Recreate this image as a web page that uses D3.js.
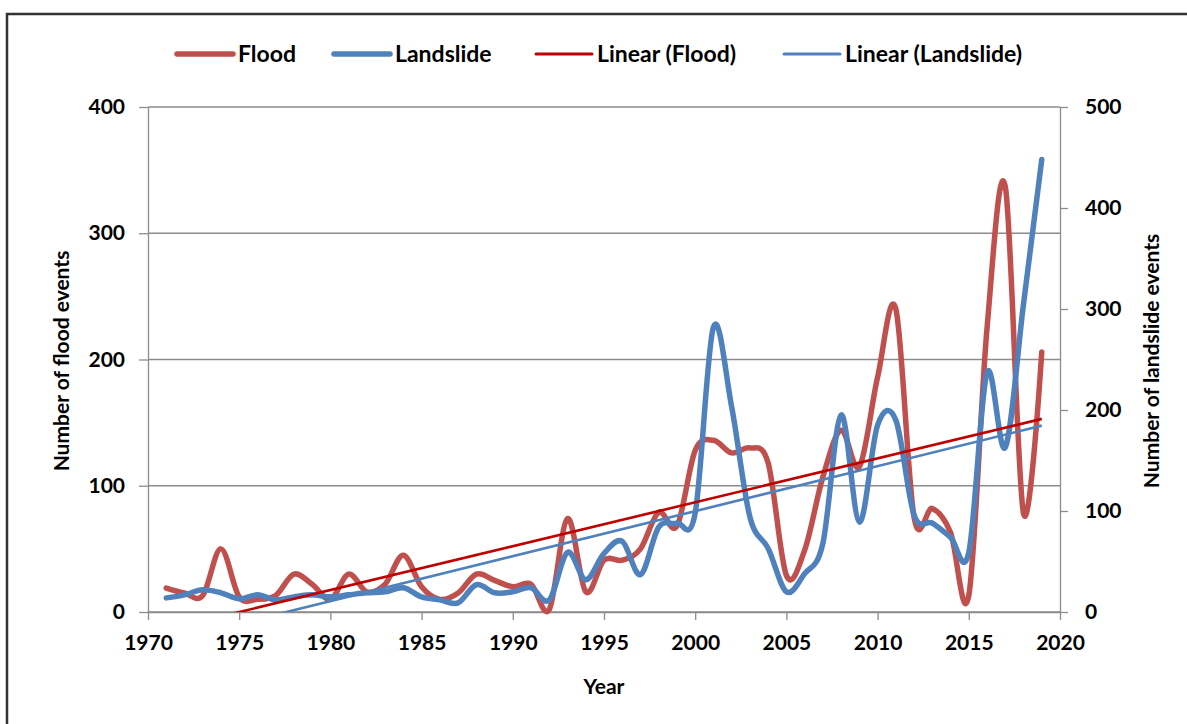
<!DOCTYPE html>
<html>
<head>
<meta charset="utf-8">
<title>Flood and landslide events</title>
<script src="https://cdn.jsdelivr.net/npm/d3@7"></script>
<style>
  body { margin: 0; background: #fff; }
  svg text { font-family: Lato, "Open Sans", sans-serif; font-weight: bold; fill: #000; }
</style>
</head>
<body>
<div id="root"></div>
<script>
// years on the x axis
const years = d3.range(1971, 2020);

// number of flood events per year (left axis)
const flood = [19, 15, 13, 50, 12, 10, 13, 30, 22, 10,
               30, 16, 22, 45, 20, 10, 15, 30, 25, 20,
               22, 2, 74, 16, 41, 41, 50, 79, 68, 128,
               136, 126, 130, 118, 29, 49, 107, 144, 115, 186,
               240, 75, 82, 63, 13, 225, 337, 78, 206];

// number of landslide events per year (right axis)
const landslide = [14, 17, 22, 19, 13, 17, 12, 15, 17, 15,
                   17, 19, 20, 24, 15, 12, 9, 27, 19, 20,
                   24, 12, 59, 32, 58, 70, 37, 84, 88, 98,
                   282, 203, 94, 63, 20, 38, 68, 195, 89, 185,
                   190, 96, 88, 74, 59, 237, 163, 305, 448];

const xTicks = d3.range(1970, 2021, 5);
const leftTicks = [0, 100, 200, 300, 400];
const rightTicks = [0, 100, 200, 300, 400, 500];
const legendLabels = ["Flood", "Landslide", "Linear (Flood)", "Linear (Landslide)"];

const width = 1187, height = 724;
const plotLeft = 148, plotRight = 1060, plotTop = 107, plotBottom = 612;
const gridColor = "#8c8c8c";

const svg = d3.select("#root").append("svg")
  .attr("width", width)
  .attr("height", height);

// chart frame
svg.append("rect")
  .attr("x", 7).attr("y", 14)
  .attr("width", 1300).attr("height", 900)
  .attr("fill", "#fff")
  .attr("stroke", "#333")
  .attr("stroke-width", 2.5);

const x = d3.scaleLinear().domain([1970, 2020]).range([plotLeft, plotRight]);
const yL = d3.scaleLinear().domain([0, 400]).range([plotBottom, plotTop]);
const yR = d3.scaleLinear().domain([0, 500]).range([plotBottom, plotTop]);

// horizontal gridlines
svg.append("g").selectAll("line")
  .data(leftTicks)
  .enter().append("line")
  .attr("x1", plotLeft).attr("x2", plotRight)
  .attr("y1", d => yL(d)).attr("y2", d => yL(d))
  .attr("stroke", gridColor).attr("stroke-width", 1.3);

// axes
function styleAxis(g) {
  g.select(".domain").attr("stroke", gridColor).attr("stroke-width", 1.3);
  g.selectAll(".tick line").attr("stroke", gridColor).attr("stroke-width", 1.3);
  g.selectAll(".tick text").attr("font-size", "21px").attr("fill", "#000");
}

svg.append("g")
  .attr("transform", "translate(0," + plotBottom + ")")
  .call(d3.axisBottom(x).tickValues(xTicks).tickFormat(d3.format("d")).tickSize(8).tickSizeOuter(0).tickPadding(15))
  .call(styleAxis);

svg.append("g")
  .attr("transform", "translate(" + plotLeft + ",0)")
  .call(d3.axisLeft(yL).tickValues(leftTicks).tickSize(9).tickSizeOuter(0).tickPadding(14))
  .call(styleAxis);

svg.append("g")
  .attr("transform", "translate(" + plotRight + ",0)")
  .call(d3.axisRight(yR).tickValues(rightTicks).tickSize(8).tickSizeOuter(0).tickPadding(17))
  .call(styleAxis);

// clip for the trend lines
svg.append("clipPath").attr("id", "plotClip")
  .append("rect")
  .attr("x", plotLeft).attr("y", plotTop)
  .attr("width", plotRight - plotLeft).attr("height", plotBottom - plotTop);

// least squares fit, like the excel trendline
function linearFit(xs, ys) {
  const mx = d3.mean(xs), my = d3.mean(ys);
  let num = 0, den = 0;
  xs.forEach((v, i) => { num += (v - mx) * (ys[i] - my); den += (v - mx) * (v - mx); });
  const b = num / den;
  return v => my + b * (v - mx);
}

const floodFit = linearFit(years, flood);
const slideFit = linearFit(years, landslide);
const x0 = years[0], x1 = years[years.length - 1];

const smooth = d3.line().curve(d3.curveCardinal.tension(0));

svg.append("path")
  .attr("d", smooth(years.map((yr, i) => [x(yr), yL(flood[i])])))
  .attr("fill", "none").attr("stroke", "#C0504D").attr("stroke-width", 5.5)
  .attr("stroke-linejoin", "round").attr("stroke-linecap", "round");

svg.append("path")
  .attr("d", smooth(years.map((yr, i) => [x(yr), yR(landslide[i])])))
  .attr("fill", "none").attr("stroke", "#4F81BD").attr("stroke-width", 5.5)
  .attr("stroke-linejoin", "round").attr("stroke-linecap", "round");

const trends = svg.append("g").attr("clip-path", "url(#plotClip)");

trends.append("line")
  .attr("x1", x(x0)).attr("y1", yL(floodFit(x0)))
  .attr("x2", x(x1)).attr("y2", yL(floodFit(x1)))
  .attr("stroke", "#C00000").attr("stroke-width", 2.6);

trends.append("line")
  .attr("x1", x(x0)).attr("y1", yR(slideFit(x0)))
  .attr("x2", x(x1)).attr("y2", yR(slideFit(x1)))
  .attr("stroke", "#4F81BD").attr("stroke-width", 2.6);

// legend
const legendX = [177, 334, 536, 784];
const legendColor = ["#C0504D", "#4F81BD", "#C00000", "#4F81BD"];
const legendWidth = [5.5, 5.5, 3, 3];

const legend = svg.append("g").selectAll("g")
  .data(legendLabels)
  .enter().append("g")
  .attr("transform", (d, i) => "translate(" + legendX[i] + ",54)");

legend.append("line")
  .attr("x1", 0).attr("x2", 56)
  .attr("stroke", (d, i) => legendColor[i])
  .attr("stroke-width", (d, i) => legendWidth[i])
  .attr("stroke-linecap", "round");

legend.append("text")
  .attr("x", 61)
  .attr("dy", "0.35em")
  .attr("font-size", "23px")
  .text(d => d);

// axis titles
svg.append("text")
  .attr("x", (plotLeft + plotRight) / 2)
  .attr("y", 694)
  .attr("text-anchor", "middle")
  .attr("font-size", "21px")
  .text("Year");

svg.append("text")
  .attr("transform", "translate(69,361) rotate(-90)")
  .attr("text-anchor", "middle")
  .attr("font-size", "21px")
  .text("Number of flood events");

svg.append("text")
  .attr("transform", "translate(1159,361) rotate(-90)")
  .attr("text-anchor", "middle")
  .attr("font-size", "21px")
  .text("Number of landslide events");
</script>
</body>
</html>
